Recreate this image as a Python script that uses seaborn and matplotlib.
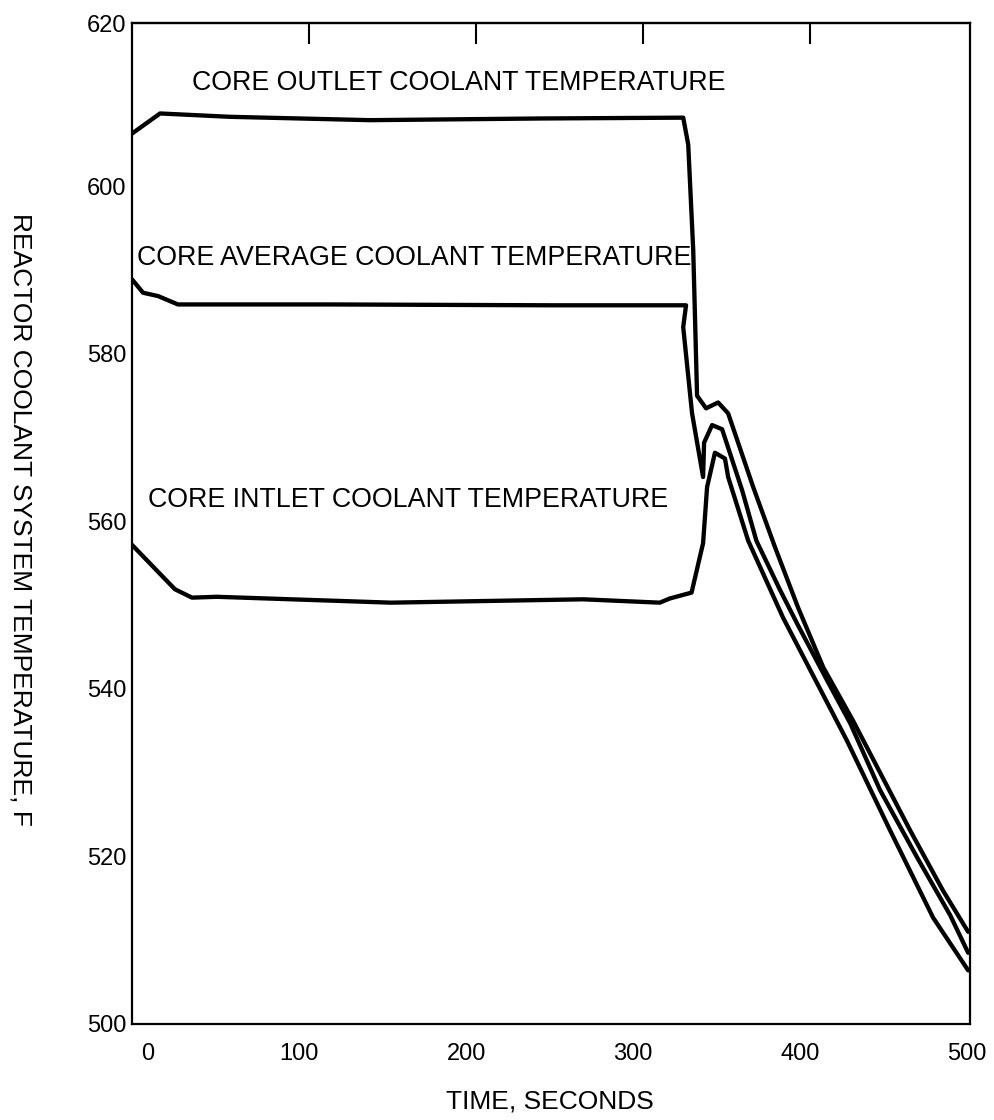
import matplotlib
matplotlib.use("Agg")
import matplotlib.pyplot as plt
import seaborn as sns
import pandas as pd

# ---- data ----
outlet_t = [0, 16.8, 58.7, 142.5, 244, 330, 333, 336, 338.3, 343.7, 350.9, 356.9,
            371.9, 385, 398.8, 413.8, 431.7, 465.9, 485.6, 500.6]
outlet_T = [606.3, 608.7, 608.3, 607.9, 608.1, 608.2, 605.0, 592.4, 575.0, 573.5, 574.2, 572.9,
            564.1, 556.9, 549.7, 542.6, 536.2, 523.1, 515.9, 511.0]

average_t = [0, 6.6, 15.6, 27.5, 120, 250, 331.7, 330, 335.3, 341.9, 342.5, 347.3, 353.3,
             365.3, 373.8, 388, 398.2, 416.2, 430, 447.9, 470, 489.8, 500.6]
average_T = [588.9, 587.3, 586.9, 585.9, 585.9, 585.8, 585.8, 583.2, 572.9, 565.3, 569.4, 571.5, 571.0,
             563.7, 557.7, 551.8, 547.8, 541.0, 535.9, 527.9, 519.9, 513.0, 508.5]

inlet_t = [0, 25.7, 35.9, 50.8, 155, 270, 316, 322, 335, 341.9, 344.3, 349, 355, 356.9,
           368.9, 389.8, 428.1, 453.9, 479.6, 500.6]
inlet_T = [557.2, 551.9, 550.9, 551.0, 550.3, 550.7, 550.3, 550.8, 551.5, 557.4, 564.1, 568.2, 567.5, 565.3,
           557.7, 548.5, 533.8, 523.1, 512.7, 506.4]

x_ticks = [9.6, 100, 200, 300, 400, 500]
x_tick_labels = ["0", "100", "200", "300", "400", "500"]
y_ticks = [500, 520, 540, 560, 580, 600, 619.5]
y_tick_labels = ["500", "520", "540", "560", "580", "600", "620"]
top_ticks = [100, 200, 300, 400]

labels = {
    "CORE OUTLET COOLANT TEMPERATURE": (35.9, 612.3),
    "CORE AVERAGE COOLANT TEMPERATURE": (3.0, 591.5),
    "CORE INTLET COOLANT TEMPERATURE": (9.6, 562.5),
}

sns.set_style("white")
plt.rcParams["font.family"] = ["Liberation Sans", "DejaVu Sans"]
plt.rcParams["text.color"] = "black"

fig = plt.figure(figsize=(9.95, 11.2), dpi=100)
ax = fig.add_axes([132 / 995, 1 - 1024 / 1120, (970.5 - 132) / 995, (1024 - 23) / 1120])

for t, T in [(outlet_t, outlet_T), (average_t, average_T), (inlet_t, inlet_T)]:
    df = pd.DataFrame({"t": t, "T": T})
    sns.lineplot(data=df, x="t", y="T", ax=ax, color="black", linewidth=3.1,
                 sort=False, estimator=None)

ax.set_xlim(0, 502)
ax.set_ylim(500, 619.5)
ax.set_xlabel("")
ax.set_ylabel("")

for s in ax.spines.values():
    s.set_color("black")
    s.set_linewidth(1.6)

ax.set_xticks(x_ticks)
ax.set_xticklabels(x_tick_labels)
ax.set_yticks(y_ticks)
ax.set_yticklabels(y_tick_labels)
ax.tick_params(axis="x", direction="in", length=15, width=1.5, pad=14, labelsize=17, colors="black")
ax.tick_params(axis="y", direction="in", length=15, width=1.5, pad=4, labelsize=17, colors="black")
for i in (0, len(x_ticks) - 1):
    ax.xaxis.get_major_ticks()[i].tick1line.set_visible(False)
for i in (0, len(y_ticks) - 1):
    ax.yaxis.get_major_ticks()[i].tick1line.set_visible(False)

sec = ax.secondary_xaxis("top", functions=(lambda x: x - 6, lambda x: x + 6))
sec.set_xticks(top_ticks)
sec.set_xticklabels([""] * len(top_ticks))
sec.tick_params(direction="in", length=15, width=1.5, colors="black")
sec.spines["top"].set_linewidth(1.6)

for txt, (tx, ty) in labels.items():
    ax.text(tx, ty, txt, fontsize=19.3, ha="left", va="center", color="black")

fig.text(550 / 995, 1 - 1101 / 1120, "TIME, SECONDS", ha="center", va="center",
         fontsize=19, color="black")
fig.text(20 / 995, 1 - 519 / 1120, "REACTOR COOLANT SYSTEM TEMPERATURE, F",
         ha="center", va="center", rotation=-90, fontsize=19, color="black")

fig.savefig("out.png", dpi=100)
